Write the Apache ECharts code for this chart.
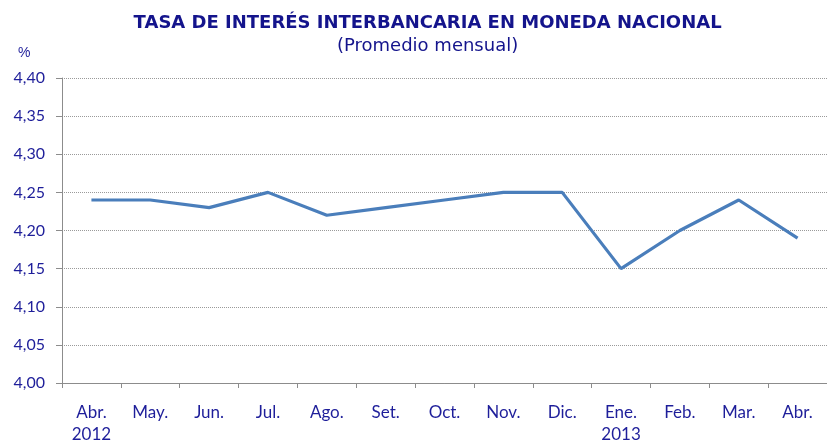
<!DOCTYPE html>
<html><head><meta charset="utf-8">
<script src="https://cdn.jsdelivr.net/npm/echarts@6/dist/echarts.min.js"></script>
<style>html,body{margin:0;padding:0;background:#fff;overflow:hidden;width:100%;height:100%}#c{width:100vw;height:100vh}</style>
</head><body><div id="c"></div>
<script>
const categories = ['Abr.\n2012','May.','Jun.','Jul.','Ago.','Set.','Oct.','Nov.','Dic.','Ene.\n2013','Feb.','Mar.','Abr.'];
const rates = [4.24,4.24,4.23,4.25,4.22,4.23,4.24,4.25,4.25,4.15,4.20,4.24,4.19];
const titleText = 'TASA DE INTERÉS INTERBANCARIA EN MONEDA NACIONAL';
const subtitleText = '(Promedio mensual)';
const unitText = '%';
const labelColor = '#1E1E9A';
const chart = echarts.init(document.getElementById('c'));
chart.setOption({
  animation:false,
  title:[
    {text:titleText,left:'51.1%',top:9,textAlign:'center',textStyle:{fontFamily:'DejaVu Sans',fontWeight:'bold',fontSize:18,color:'#14148C'}},
    {text:subtitleText,left:'51.1%',top:32,textAlign:'center',textStyle:{fontFamily:'DejaVu Sans',fontWeight:'normal',fontSize:18,color:'#14148C'}},
    {text:unitText,left:13,top:41,textStyle:{fontFamily:'Liberation Sans',fontWeight:'normal',fontSize:14,color:labelColor}}
  ],
  grid:{left:62,right:-5,top:78,bottom:58,containLabel:false},
  xAxis:{type:'category',data:categories,boundaryGap:true,
    axisLine:{lineStyle:{color:'#8c8c8c',width:1}},
    axisTick:{show:true,length:5,lineStyle:{color:'#8c8c8c'}},
    axisLabel:{color:labelColor,fontFamily:'Lato',fontSize:17,margin:19,lineHeight:22,interval:0}
  },
  yAxis:{type:'value',min:4.00,max:4.40,interval:0.05,
    axisLine:{show:true,lineStyle:{color:'#8c8c8c'}},
    axisTick:{show:true,length:6,lineStyle:{color:'#8c8c8c'}},
    axisLabel:{color:labelColor,fontFamily:'Lato',fontSize:16,margin:17,
      formatter:v=>v.toFixed(2).replace('.',',')},
    splitLine:{show:true,lineStyle:{color:'#9a9a9a',type:[1,1],width:1}}
  },
  series:[{type:'line',data:rates,symbol:'none',lineStyle:{color:'#4A7EBB',width:3.2},itemStyle:{color:'#4A7EBB'}}]
});
</script></body></html>
